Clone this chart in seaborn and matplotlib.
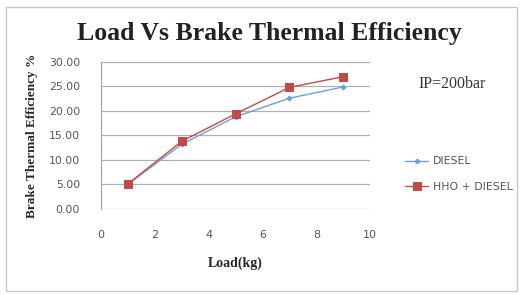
import pandas as pd
import matplotlib.pyplot as plt
import seaborn as sns

# values
load_kg = [1, 3, 5, 7, 9]
diesel = [5.0, 13.2, 18.8, 22.6, 24.9]
hho_diesel = [5.1, 13.8, 19.4, 24.8, 27.0]
series_names = ["DIESEL", "HHO + DIESEL"]
y_ticks = [0, 5, 10, 15, 20, 25, 30]
x_ticks = [0, 2, 4, 6, 8, 10]

df = pd.DataFrame({
    "Load": load_kg * 2,
    "BTE": diesel + hho_diesel,
    "Fuel": [series_names[0]] * len(load_kg) + [series_names[1]] * len(load_kg),
})

sns.set_style("white")
fig = plt.figure(figsize=(5.23, 2.95), dpi=100)
ax = fig.add_axes([0.193, 0.292, 0.515, 0.498])

palette = {"DIESEL": "#6f9fd8", "HHO + DIESEL": "#be4b48"}
markers = {"DIESEL": "D", "HHO + DIESEL": "s"}
sns.lineplot(data=df, x="Load", y="BTE", hue="Fuel", style="Fuel",
             palette=palette, markers=markers, dashes=False,
             linewidth=1.0, ax=ax, legend=False)
# marker sizes differ per series
for line, ms in zip(ax.lines, [2.5, 6]):
    line.set_markersize(ms)
    line.set_markeredgecolor(line.get_color())

ax.set_xlim(0, 10)
ax.set_ylim(0, 30)
ax.set_xticks(x_ticks)
ax.set_yticks(y_ticks)
ax.set_yticklabels([f"{v:.2f}" for v in y_ticks])
ax.tick_params(axis="y", labelsize=7.8, colors="#555555", length=0, pad=15)
ax.tick_params(axis="x", labelsize=8, colors="#555555", length=0, pad=15)
ax.grid(axis="y", color="#b0b0b0", linewidth=0.9)
ax.set_axisbelow(True)
for side in ["top", "right", "bottom"]:
    ax.spines[side].set_visible(False)
ax.spines["left"].set_color("#a0a0a0")

serif = ["Liberation Serif", "DejaVu Serif"]
ax.set_xlabel("Load(kg)", fontsize=10, fontweight="bold", family=serif, labelpad=12)
ax.set_ylabel("Brake Thermal Efficiency %", fontsize=9.5, fontweight="bold", family=serif, labelpad=8)

fig.text(0.515, 0.885, "Load Vs Brake Thermal Efficiency", ha="center", va="center",
         fontsize=18.5, fontweight="bold", family=serif, color="#222222")
fig.text(0.80, 0.715, "IP=200bar", ha="left", va="center", fontsize=11.5,
         family=serif, color="#333333")

handles = ax.lines[:2]
fig.legend(handles, series_names, loc="center left", bbox_to_anchor=(0.755, 0.41),
           frameon=False, fontsize=7.8, handlelength=2.2, handletextpad=0.4,
           labelspacing=1.4, labelcolor="#555555")

# outer chart frame
fig.patches.append(plt.Rectangle((0.012, 0.012), 0.976, 0.965, transform=fig.transFigure,
                                 fill=False, edgecolor="#c8c8c8", linewidth=1.0))

fig.savefig("out.png", dpi=100)
